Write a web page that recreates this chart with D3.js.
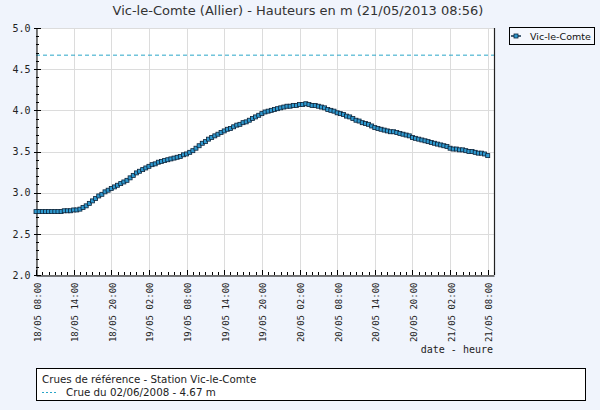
<!DOCTYPE html>
<html><head><meta charset="utf-8">
<script src="https://cdn.jsdelivr.net/npm/d3@7"></script>
<style>
html,body{margin:0;padding:0;background:#f0f4fc;}
svg{display:block;}
</style></head>
<body>
<script>
const title = "Vic-le-Comte (Allier) - Hauteurs en m (21/05/2013 08:56)";
const seriesName = "Vic-le-Comte";
const startTime = "2013-05-18T08:00";
const stepMinutes = 30;
const heights = [
 2.77,2.77,2.77,2.77,2.77,2.77,2.77,2.77,2.77,
 2.78,2.78,2.78,2.79,2.79,2.80,
 2.82,2.84,2.87,2.90,2.93,2.96,
 2.98,3.01,3.03,3.05,3.07,3.09,
 3.11,3.13,3.15,3.18,3.21,3.24,
 3.26,3.28,3.30,3.32,3.34,3.35,
 3.37,3.38,3.39,3.40,3.41,3.42,
 3.43,3.44,3.46,3.47,3.49,3.51,
 3.54,3.57,3.60,3.62,3.65,3.67,
 3.69,3.71,3.73,3.75,3.77,3.78,
 3.80,3.82,3.83,3.85,3.86,3.88,
 3.90,3.92,3.94,3.96,3.98,3.99,
 4.00,4.01,4.02,4.03,4.04,4.05,
 4.05,4.06,4.06,4.07,4.07,4.08,
 4.07,4.06,4.06,4.05,4.04,4.03,
 4.01,4.00,3.99,3.97,3.96,3.95,
 3.93,3.92,3.90,3.88,3.87,3.85,
 3.84,3.83,3.81,3.79,3.78,3.77,
 3.76,3.75,3.74,3.74,3.73,3.72,
 3.71,3.70,3.69,3.67,3.66,3.65,
 3.64,3.63,3.62,3.61,3.60,3.59,
 3.58,3.57,3.56,3.54,3.53,3.53,
 3.52,3.52,3.51,3.50,3.50,3.49,
 3.48,3.48,3.47,3.45
];
const refLabel = "Crue du 02/06/2008 - 4.67 m";
const refValue = 4.67;
const refBoxTitle = "Crues de référence - Station Vic-le-Comte";
const yTicks = [2.0, 2.5, 3.0, 3.5, 4.0, 4.5, 5.0];
const xAxisTitle = "date - heure";
const xDomain = ["2013-05-18T08:00", "2013-05-21T09:00"];
const yDomain = [2.0, 5.0];

const W = 600, H = 410;
const m = {left: 36, right: 494, top: 28, bottom: 275};
const parse = d3.timeParse("%Y-%m-%dT%H:%M");
const t0 = parse(startTime);
const data = heights.map((v, i) => ({t: d3.timeMinute.offset(t0, i * stepMinutes), v}));

const svg = d3.select("body").append("svg").attr("width", W).attr("height", H);
svg.append("rect").attr("width", W).attr("height", H).attr("fill", "#f0f4fc");

const x = d3.scaleTime().domain(xDomain.map(parse)).range([m.left, m.right]);
const y = d3.scaleLinear().domain(yDomain).range([m.bottom, m.top]);

svg.append("rect").attr("x", m.left).attr("y", m.top)
  .attr("width", m.right - m.left).attr("height", m.bottom - m.top).attr("fill", "#ffffff");

const minorX = d3.timeHour.range(x.domain()[0], d3.timeMinute.offset(x.domain()[1], 1));
const majorX = minorX.filter(d => (d.getHours() % 6) === 2);

const grid = svg.append("g").attr("stroke", "#dcdcdc").attr("stroke-width", 1);
grid.selectAll(".gx").data(majorX).join("line")
  .attr("x1", d => Math.round(x(d)) + 0.5).attr("x2", d => Math.round(x(d)) + 0.5)
  .attr("y1", m.top).attr("y2", m.bottom);
grid.selectAll(".gy").data(yTicks).join("line")
  .attr("x1", m.left).attr("x2", m.right)
  .attr("y1", d => Math.round(y(d)) + 0.5).attr("y2", d => Math.round(y(d)) + 0.5);

svg.append("line").attr("x1", m.left).attr("x2", m.right).attr("y1", m.top + 0.5).attr("y2", m.top + 0.5)
  .attr("stroke", "#dcdcdc");

svg.append("line").attr("x1", m.left).attr("x2", m.right)
  .attr("y1", y(refValue)).attr("y2", y(refValue))
  .attr("stroke", "#2aa6c8").attr("stroke-width", 1).attr("stroke-dasharray", "4,3");

// Y axis
const yMinor = d3.range(20, 51).map(d => d / 10);
const yAxis = d3.axisLeft(y).tickValues(yTicks).tickFormat(d3.format(".1f")).tickSize(0).tickPadding(6);
const gy = svg.append("g").attr("transform", `translate(${m.left + 0.5},0)`).call(yAxis);
gy.select(".domain").attr("stroke", "#000");
gy.selectAll("text").attr("font-family", "DejaVu Sans Mono").attr("font-size", 10).attr("fill", "#222");
svg.append("g").selectAll("line").data(yMinor).join("line")
  .attr("x1", m.left).attr("x2", d => m.left + (Math.abs(d * 2 - Math.round(d * 2)) < 1e-6 ? 5 : 3))
  .attr("y1", d => Math.round(y(d)) + 0.5).attr("y2", d => Math.round(y(d)) + 0.5)
  .attr("stroke", "#000");
svg.append("g").selectAll("line").data(yTicks).join("line")
  .attr("x1", m.left - 2).attr("x2", m.left)
  .attr("y1", d => Math.round(y(d)) + 0.5).attr("y2", d => Math.round(y(d)) + 0.5)
  .attr("stroke", "#000");

svg.append("line").attr("x1", m.right + 0.5).attr("x2", m.right + 0.5)
  .attr("y1", m.top).attr("y2", m.bottom).attr("stroke", "#222").attr("stroke-width", 1.2);

// X axis
const xAxis = d3.axisBottom(x).tickValues(majorX).tickFormat(d3.timeFormat("%d/%m %H:%M")).tickSize(0).tickPadding(0);
const gx = svg.append("g").attr("transform", `translate(0,${m.bottom + 0.5})`).call(xAxis);
gx.select(".domain").attr("stroke", "#000");
gx.selectAll("text")
  .attr("font-family", "DejaVu Sans Mono").attr("font-size", 9).attr("fill", "#222")
  .attr("text-anchor", "end").attr("dy", null).attr("y", 0)
  .attr("transform", "translate(4,7) rotate(-90)");
svg.append("g").selectAll("line").data(minorX).join("line")
  .attr("x1", d => Math.round(x(d)) + 0.5).attr("x2", d => Math.round(x(d)) + 0.5)
  .attr("y1", m.bottom).attr("y2", d => m.bottom - ((d.getHours() % 6) === 2 ? 5 : 3))
  .attr("stroke", "#000");

svg.append("text").attr("x", m.right - 1).attr("y", 353).attr("text-anchor", "end")
  .attr("font-family", "DejaVu Sans Mono").attr("font-size", 10).attr("fill", "#222").text(xAxisTitle);

// series
svg.append("path").datum(data)
  .attr("d", d3.line().x(d => x(d.t)).y(d => y(d.v)))
  .attr("fill", "none").attr("stroke", "#10304a").attr("stroke-width", 1);
svg.append("g").selectAll("rect").data(data).join("rect")
  .attr("x", d => x(d.t) - 2).attr("y", d => y(d.v) - 2)
  .attr("width", 4).attr("height", 4)
  .attr("fill", "#2f9ad0").attr("stroke", "#0c2238").attr("stroke-width", 0.8);

// title
svg.append("text").attr("x", 298).attr("y", 15).attr("text-anchor", "middle")
  .attr("font-family", "DejaVu Sans").attr("font-size", 13).attr("fill", "#333").text(title);

// legend
const lg = svg.append("g");
lg.append("rect").attr("x", 509.5).attr("y", 27.5).attr("width", 85).attr("height", 17)
  .attr("fill", "#f4f7fd").attr("stroke", "#000").attr("stroke-width", 1);
lg.append("line").attr("x1", 511).attr("x2", 521).attr("y1", 36).attr("y2", 36).attr("stroke", "#10304a").attr("stroke-width", 1.5);
lg.append("rect").attr("x", 514).attr("y", 34).attr("width", 4).attr("height", 4)
  .attr("fill", "#2f9ad0").attr("stroke", "#0c2238").attr("stroke-width", 0.8);
lg.append("text").attr("x", 530).attr("y", 39.5).attr("font-family", "DejaVu Sans").attr("font-size", 9.5)
  .attr("fill", "#111").text(seriesName);

// reference box
const rb = svg.append("g");
rb.append("rect").attr("x", 36.5).attr("y", 368.5).attr("width", 549).attr("height", 32)
  .attr("fill", "#ffffff").attr("stroke", "#000").attr("stroke-width", 1);
rb.append("text").attr("x", 42).attr("y", 383).attr("font-family", "DejaVu Sans").attr("font-size", 10.3)
  .attr("fill", "#222").text(refBoxTitle);
rb.append("line").attr("x1", 42).attr("x2", 58).attr("y1", 392.5).attr("y2", 392.5)
  .attr("stroke", "#2aa6c8").attr("stroke-dasharray", "2,2");
rb.append("text").attr("x", 66).attr("y", 396).attr("font-family", "DejaVu Sans").attr("font-size", 10.3)
  .attr("fill", "#222").text(refLabel);
</script>
</body></html>
